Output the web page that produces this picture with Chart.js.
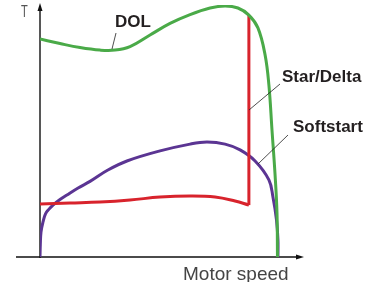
<!DOCTYPE html>
<html>
<head>
<meta charset="utf-8">
<script src="https://cdn.jsdelivr.net/npm/chart.js@4"></script>
<style>
  html, body { margin: 0; padding: 0; background: #fff; }
  #wrap { width: 379px; height: 282px; }
</style>
</head>
<body>
<div id="wrap"><canvas id="chart"></canvas></div>
<script>
"use strict";

// speed in % of rated, torque in % of axis height
const dolSpeed = [0, 8.4, 16.8, 25.2, 31.5, 37.8, 46.2, 54.6, 63.0, 71.4, 77.7, 83.1, 87.7, 91.5, 94.5, 96.1, 97.4, 98.7, 99.5, 99.7];
const dolTorque = [86.5, 84.7, 83.1, 82.1, 82.1, 83.5, 88.1, 92.7, 96.2, 98.8, 99.6, 98.8, 96.0, 90.9, 80.2, 68.3, 50.4, 32.5, 17.5, 0];

const starSpeed = [0, 12.6, 25.2, 37.8, 50.4, 63.0, 73.5, 81.9, 87.7];
const starTorque = [21.0, 21.4, 21.8, 22.6, 23.8, 24.2, 23.8, 22.2, 20.6];
// switch-over from star to delta
const deltaSpeed = [87.7, 87.7];
const deltaTorque = [20.6, 96.0];

const softSpeed = [0, 0.13, 0.42, 1.26, 2.31, 3.78, 5.46, 8.4, 11.3, 16.0, 21.0, 28.5, 36.5, 50.4, 63.0, 70.1, 77.7, 84.0, 90.3, 96.1, 97.8, 99.3, 99.9, 99.9];
const softTorque = [0, 4.8, 9.9, 13.9, 17.1, 19.0, 20.6, 22.8, 24.6, 27.4, 30.0, 34.5, 38.1, 42.1, 44.8, 45.6, 44.8, 42.5, 38.1, 30.6, 23.8, 14.7, 6.7, 0];

const GREEN = "#4aaa48";
const RED = "#d8232c";
const PURPLE = "#5b3593";

function pts(xs, ys) {
  return xs.map((x, i) => ({ x: x, y: ys[i] }));
}

function line(data, color, tension) {
  return {
    data: data,
    borderColor: color,
    borderWidth: 3,
    pointRadius: 0,
    fill: false,
    tension: tension,
  };
}

//axes with arrows, labels and leader lines
const decor = {
  id: "decor",
  beforeDatasetsDraw(chart) {
    const ctx = chart.ctx;
    const x0 = chart.scales.x.getPixelForValue(0);
    const y0 = chart.scales.y.getPixelForValue(0);
    ctx.save();
    ctx.strokeStyle = "#111";
    ctx.fillStyle = "#111";
    ctx.lineWidth = 1.4;
    ctx.beginPath();
    ctx.moveTo(16, y0);
    ctx.lineTo(301, y0);
    ctx.moveTo(x0, y0 + 1);
    ctx.lineTo(x0, 7);
    ctx.stroke();
    // arrow heads
    ctx.beginPath();
    ctx.moveTo(304, y0);
    ctx.lineTo(296, y0 - 2.5);
    ctx.lineTo(296, y0 + 2.5);
    ctx.closePath();
    ctx.moveTo(x0, 3);
    ctx.lineTo(x0 - 2.5, 11);
    ctx.lineTo(x0 + 2.5, 11);
    ctx.closePath();
    ctx.fill();
    ctx.restore();
  },
  afterDatasetsDraw(chart) {
    const ctx = chart.ctx;
    ctx.save();
    // leader lines
    ctx.strokeStyle = "#222";
    ctx.lineWidth = 0.8;
    ctx.beginPath();
    ctx.moveTo(112, 49);
    ctx.lineTo(116, 33);
    ctx.moveTo(249, 110);
    ctx.lineTo(280, 84);
    ctx.moveTo(258, 164);
    ctx.lineTo(288, 135);
    ctx.stroke();

    ctx.fillStyle = "#231f20";
    ctx.textBaseline = "alphabetic";
    ctx.font = "bold 17px 'Liberation Sans', Arial, sans-serif";
    ctx.fillText("DOL", 115, 27);
    ctx.fillText("Star/Delta", 282, 82);
    ctx.fillText("Softstart", 293, 132);

    ctx.fillStyle = "#444";
    ctx.font = "19px 'Liberation Sans', Arial, sans-serif";
    ctx.fillText("Motor speed", 183, 280);

    ctx.save();
    ctx.translate(21, 17);
    ctx.scale(0.65, 1);
    ctx.fillStyle = "#555";
    ctx.font = "17px 'Liberation Sans', Arial, sans-serif";
    ctx.fillText("T", 0, 0);
    ctx.restore();
    ctx.restore();
  },
};

new Chart(document.getElementById("chart"), {
  type: "line",
  data: {
    datasets: [
      line(pts(dolSpeed, dolTorque), GREEN, 0.4),
      line(pts(starSpeed, starTorque), RED, 0.4),
      line(pts(deltaSpeed, deltaTorque), RED, 0),
      line(pts(softSpeed, softTorque), PURPLE, 0.4),
    ],
  },
  options: {
    responsive: true,
    maintainAspectRatio: false,
    animation: false,
    layout: { padding: { left: 40, top: 5, right: 77, bottom: 25 } },
    plugins: { legend: { display: false }, tooltip: { enabled: false } },
    scales: {
      x: { type: "linear", min: 0, max: 110, display: false },
      y: { type: "linear", min: 0, max: 100, display: false },
    },
  },
  plugins: [decor],
});
</script>
</body>
</html>
